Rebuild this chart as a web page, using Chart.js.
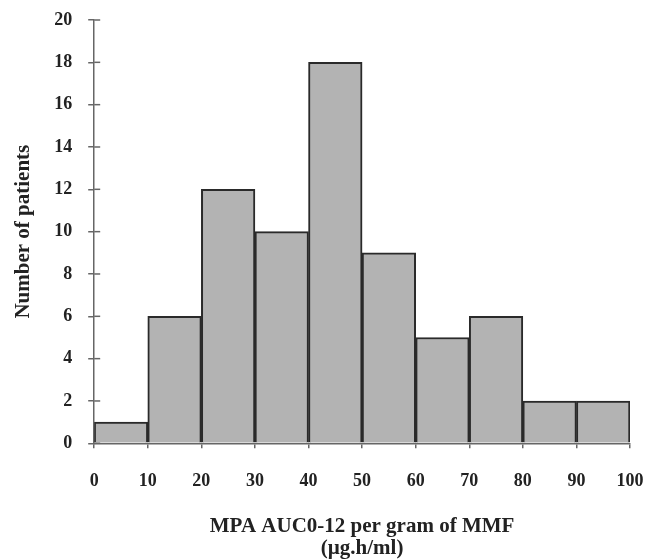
<!DOCTYPE html>
<html>
<head>
<meta charset="utf-8">
<script src="https://cdn.jsdelivr.net/npm/chart.js@4"></script>
<style>
  body { margin: 0; background: #fff; }
  #wrap { width: 648px; height: 560px; }
</style>
</head>
<body>
<div id="wrap"><canvas id="histo"></canvas></div>
<script>
// hranice tried a pocty pacientov
var binStart = [0, 10, 20, 30, 40, 50, 60, 70, 80, 90];
var binWidth = 10;
var patients = [1, 6, 12, 10, 18, 9, 5, 6, 2, 2];
var yTitle = "Number of patients";
var xTitle = ["MPA AUC0-12 per gram of MMF", "(\u00b5g.h/ml)"];

var points = [];
for (var i = 0; i < binStart.length; i++) {
    points.push({ x: binStart[i] + binWidth / 2, y: patients[i] });
}

var serif = "'Liberation Serif', 'DejaVu Serif', serif";

// kratke ciarky vo vnutri grafu pre os y (v originale pretinaju os)
var innerTicks = {
    id: 'innerTicks',
    afterDraw: function (chart) {
        var ctx = chart.ctx;
        var y = chart.scales.y;
        var x0 = chart.chartArea.left;
        ctx.save();
        ctx.strokeStyle = "#666";
        ctx.lineWidth = 1.5;
        y.ticks.forEach(function (t) {
            var py = y.getPixelForValue(t.value);
            ctx.beginPath();
            ctx.moveTo(x0, py);
            ctx.lineTo(x0 + 6, py);
            ctx.stroke();
        });
        ctx.restore();
    }
};

var ctx = document.getElementById("histo");
var myChart = new Chart(ctx, {
    type: 'bar',
    data: {
        datasets: [{
            data: points,
            backgroundColor: "#b3b3b3",
            borderColor: "#2a2a2a",
            borderWidth: 2,
            barPercentage: 1,
            categoryPercentage: 1
        }]
    },
    options: {
        responsive: true,
        maintainAspectRatio: false,
        animation: false,
        layout: { padding: { top: 20, right: 3, left: 8, bottom: 0 } },
        plugins: {
            legend: { display: false },
            tooltip: { enabled: false }
        },
        scales: {
            x: {
                type: 'linear',
                min: 0,
                max: 100,
                offset: false,
                afterFit: function (scale) {
                    scale.paddingRight = 18;
                },
                grid: { offset: false, drawOnChartArea: false, color: "#666", tickLength: 5, lineWidth: 1.5 },
                border: { color: "#666", width: 1.5 },
                ticks: {
                    stepSize: 10,
                    padding: 22,
                    color: "#222",
                    font: { family: serif, size: 18, weight: 'bold' }
                },
                title: {
                    display: true,
                    text: xTitle,
                    color: "#222",
                    padding: { top: 2, bottom: 0 },
                    font: { family: serif, size: 21, weight: 'bold', lineHeight: 1.05 }
                }
            },
            y: {
                min: 0,
                max: 20,
                afterFit: function (scale) {
                    scale.paddingTop = 11;
                },
                grid: { drawOnChartArea: false, color: "#666", tickLength: 6, lineWidth: 1.5 },
                border: { color: "#666", width: 1.5 },
                ticks: {
                    stepSize: 2,
                    padding: 16,
                    color: "#222",
                    font: { family: serif, size: 18, weight: 'bold' }
                },
                title: {
                    display: true,
                    text: yTitle,
                    color: "#222",
                    padding: { top: 3, bottom: 2 },
                    font: { family: serif, size: 21, weight: 'bold' }
                }
            }
        }
    },
    plugins: [innerTicks]
});
</script>
</body>
</html>
